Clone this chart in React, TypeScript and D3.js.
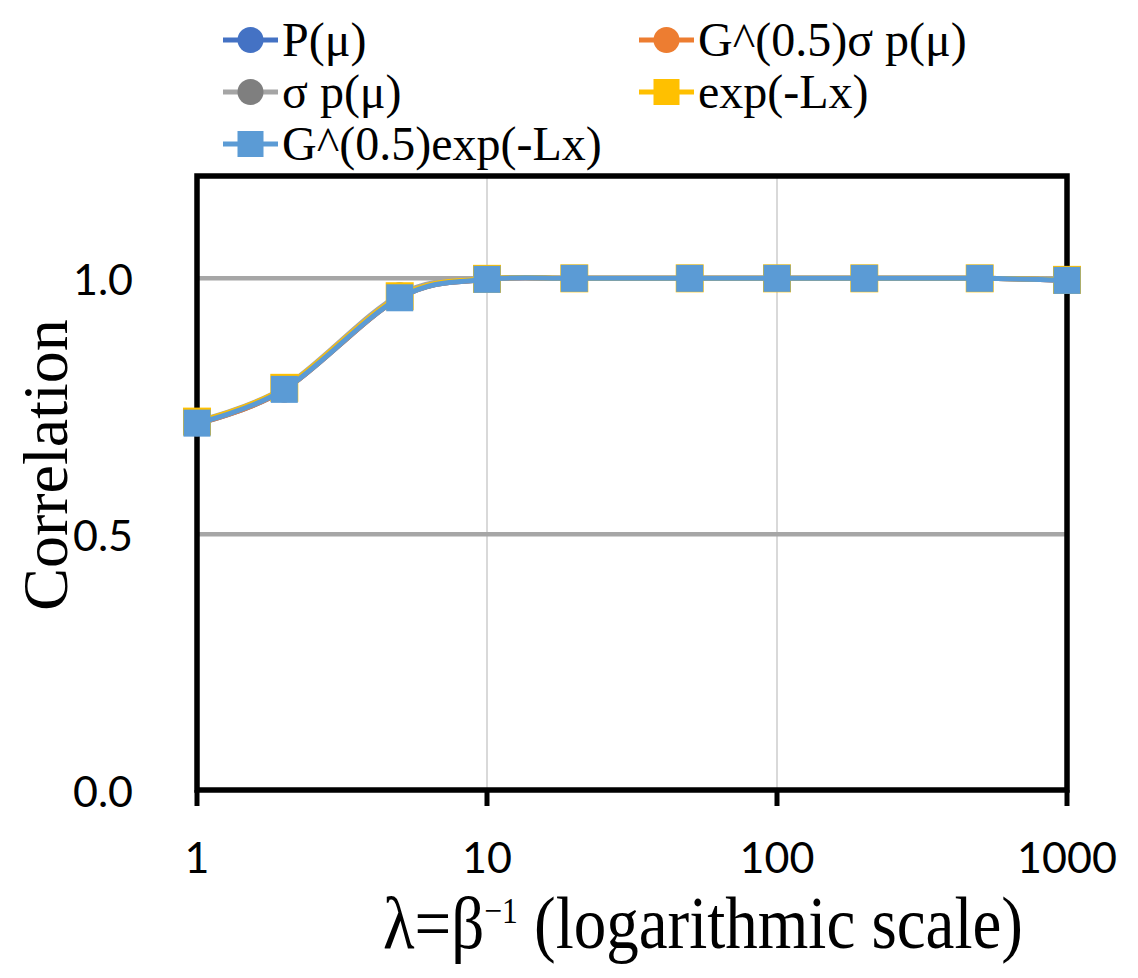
import React from "react";
import * as d3 from "d3";

const xValues = [1, 2, 5, 10, 20, 50, 100, 200, 500, 1000];
const pMu = [0.716, 0.782, 0.962, 0.998, 1.0, 1.0, 1.0, 1.0, 1.0, 0.996];
const gSigmaPMu = [0.716, 0.782, 0.962, 0.998, 1.0, 1.0, 1.0, 1.0, 1.0, 0.996];
const sigmaPMu = [0.721, 0.787, 0.968, 0.999, 1.0, 1.0, 1.0, 1.0, 1.0, 0.997];
const expLx = [0.72, 0.786, 0.965, 0.999, 1.0, 1.0, 1.0, 1.0, 1.0, 0.997];
const gExpLx = [0.717, 0.783, 0.962, 0.998, 1.0, 1.0, 1.0, 1.0, 1.0, 0.996];

const xTicks = [1, 10, 100, 1000];
const yTicks = [0, 0.5, 1.0];
const yGridTicks = [0.5, 1.0];
const xGridTicks = [10, 100];

type Series = { name: string; values: number[]; color: string; marker: "circle" | "square" };

const series: Series[] = [
  { name: "P(μ)", values: pMu, color: "#4472C4", marker: "circle" },
  { name: "G^(0.5)σ p(μ)", values: gSigmaPMu, color: "#ED7D31", marker: "circle" },
  { name: "σ p(μ)", values: sigmaPMu, color: "#A5A5A5", marker: "circle" },
  { name: "exp(-Lx)", values: expLx, color: "#FFC000", marker: "square" },
  { name: "G^(0.5)exp(-Lx)", values: gExpLx, color: "#5B9BD5", marker: "square" },
];

const markerFill: Record<string, string> = {
  "σ p(μ)": "#7F7F7F",
};

export default function App() {
  const W = 1138;
  const H = 978;
  const left = 197, right = 1067, top = 176, bottom = 790;
  const x = d3.scaleLog().domain([1, 1000]).range([left, right]);
  const y = d3.scaleLinear().domain([0, 1.2]).range([bottom, top]);
  const line = d3
    .line<number>()
    .x((_, i) => x(xValues[i]))
    .y((d) => y(d))
    .curve(d3.curveCardinal.tension(0));

  const legendCols = [223, 639];
  const legendRows = [40, 92, 144];

  const marker = (s: Series, cx: number, cy: number, key: string | number) => {
    const fill = markerFill[s.name] || s.color;
    if (s.marker === "circle") {
      return <circle key={key} cx={cx} cy={cy} r={12.5} fill={fill} />;
    }
    const size = s.name === "exp(-Lx)" ? 28 : 27;
    return (
      <rect key={key} x={cx - size / 2} y={cy - size / 2} width={size} height={size} fill={s.color} />
    );
  };

  return (
    <svg
      width={W}
      height={H}
      style={{ position: "absolute", left: 0, top: 0, background: "#fff" }}
    >
      <rect x={0} y={0} width={W} height={H} fill="#fff" />
      {xGridTicks.map((t) => (
        <line key={"xg" + t} x1={x(t)} x2={x(t)} y1={top} y2={bottom} stroke="#D9D9D9" strokeWidth={2} />
      ))}
      {yGridTicks.map((t) => (
        <line key={"yg" + t} x1={left} x2={right} y1={y(t)} y2={y(t)} stroke="#A6A6A6" strokeWidth={4.5} />
      ))}
      <rect x={left} y={top} width={right - left} height={bottom - top} fill="none" stroke="#000" strokeWidth={5.5} />
      {xTicks.map((t) => (
        <line key={"xt" + t} x1={x(t)} x2={x(t)} y1={bottom} y2={bottom + 16} stroke="#000" strokeWidth={5} />
      ))}
      {series.map((s) => (
        <g key={s.name}>
          <path d={line(s.values) || ""} fill="none" stroke={s.color} strokeWidth={5} strokeLinecap="round" />
          {s.values.map((v, i) => marker(s, x(xValues[i]), y(v), i))}
        </g>
      ))}
      {yTicks.map((t) => (
        <text
          key={"yl" + t}
          x={133}
          y={y(t)}
          textAnchor="end"
          dominantBaseline="central"
          fontFamily="Lato"
          fontSize={43}
          fill="#000"
        >
          {t.toFixed(1)}
        </text>
      ))}
      {xTicks.map((t) => (
        <text key={"xl" + t} x={x(t)} y={873} textAnchor="middle" fontFamily="Lato" fontSize={43} fill="#000">
          {String(t)}
        </text>
      ))}
      <text
        transform="translate(67,465) rotate(-90)"
        textAnchor="middle"
        fontFamily="Liberation Serif"
        fontSize={64}
        fill="#000"
      >
        Correlation
      </text>
      <g transform="translate(703,948) scale(0.985,1.13)">
        <text x={0} y={0} textAnchor="middle" fontFamily="Liberation Serif" fontSize={66} fill="#000">
          λ=β
          <tspan fontSize={32} dy={-22}>−1</tspan>
          <tspan dy={22}> (logarithmic scale)</tspan>
        </text>
      </g>
      {series.map((s, i) => {
        const col = i % 2;
        const row = Math.floor(i / 2);
        const lx = legendCols[col];
        const ly = legendRows[row];
        const fill = markerFill[s.name] || s.color;
        return (
          <g key={"lg" + i}>
            <line x1={lx} x2={lx + 55} y1={ly} y2={ly} stroke={s.color} strokeWidth={5} />
            {s.marker === "circle" ? (
              <circle cx={lx + 27.5} cy={ly} r={13} fill={fill} />
            ) : (
              <rect x={lx + 27.5 - 13} y={ly - 13} width={26} height={26} fill={s.color} />
            )}
            <text x={lx + 59} y={ly + 16} fontFamily="Liberation Serif" fontSize={48} fill="#000">
              {s.name}
            </text>
          </g>
        );
      })}
    </svg>
  );
}
